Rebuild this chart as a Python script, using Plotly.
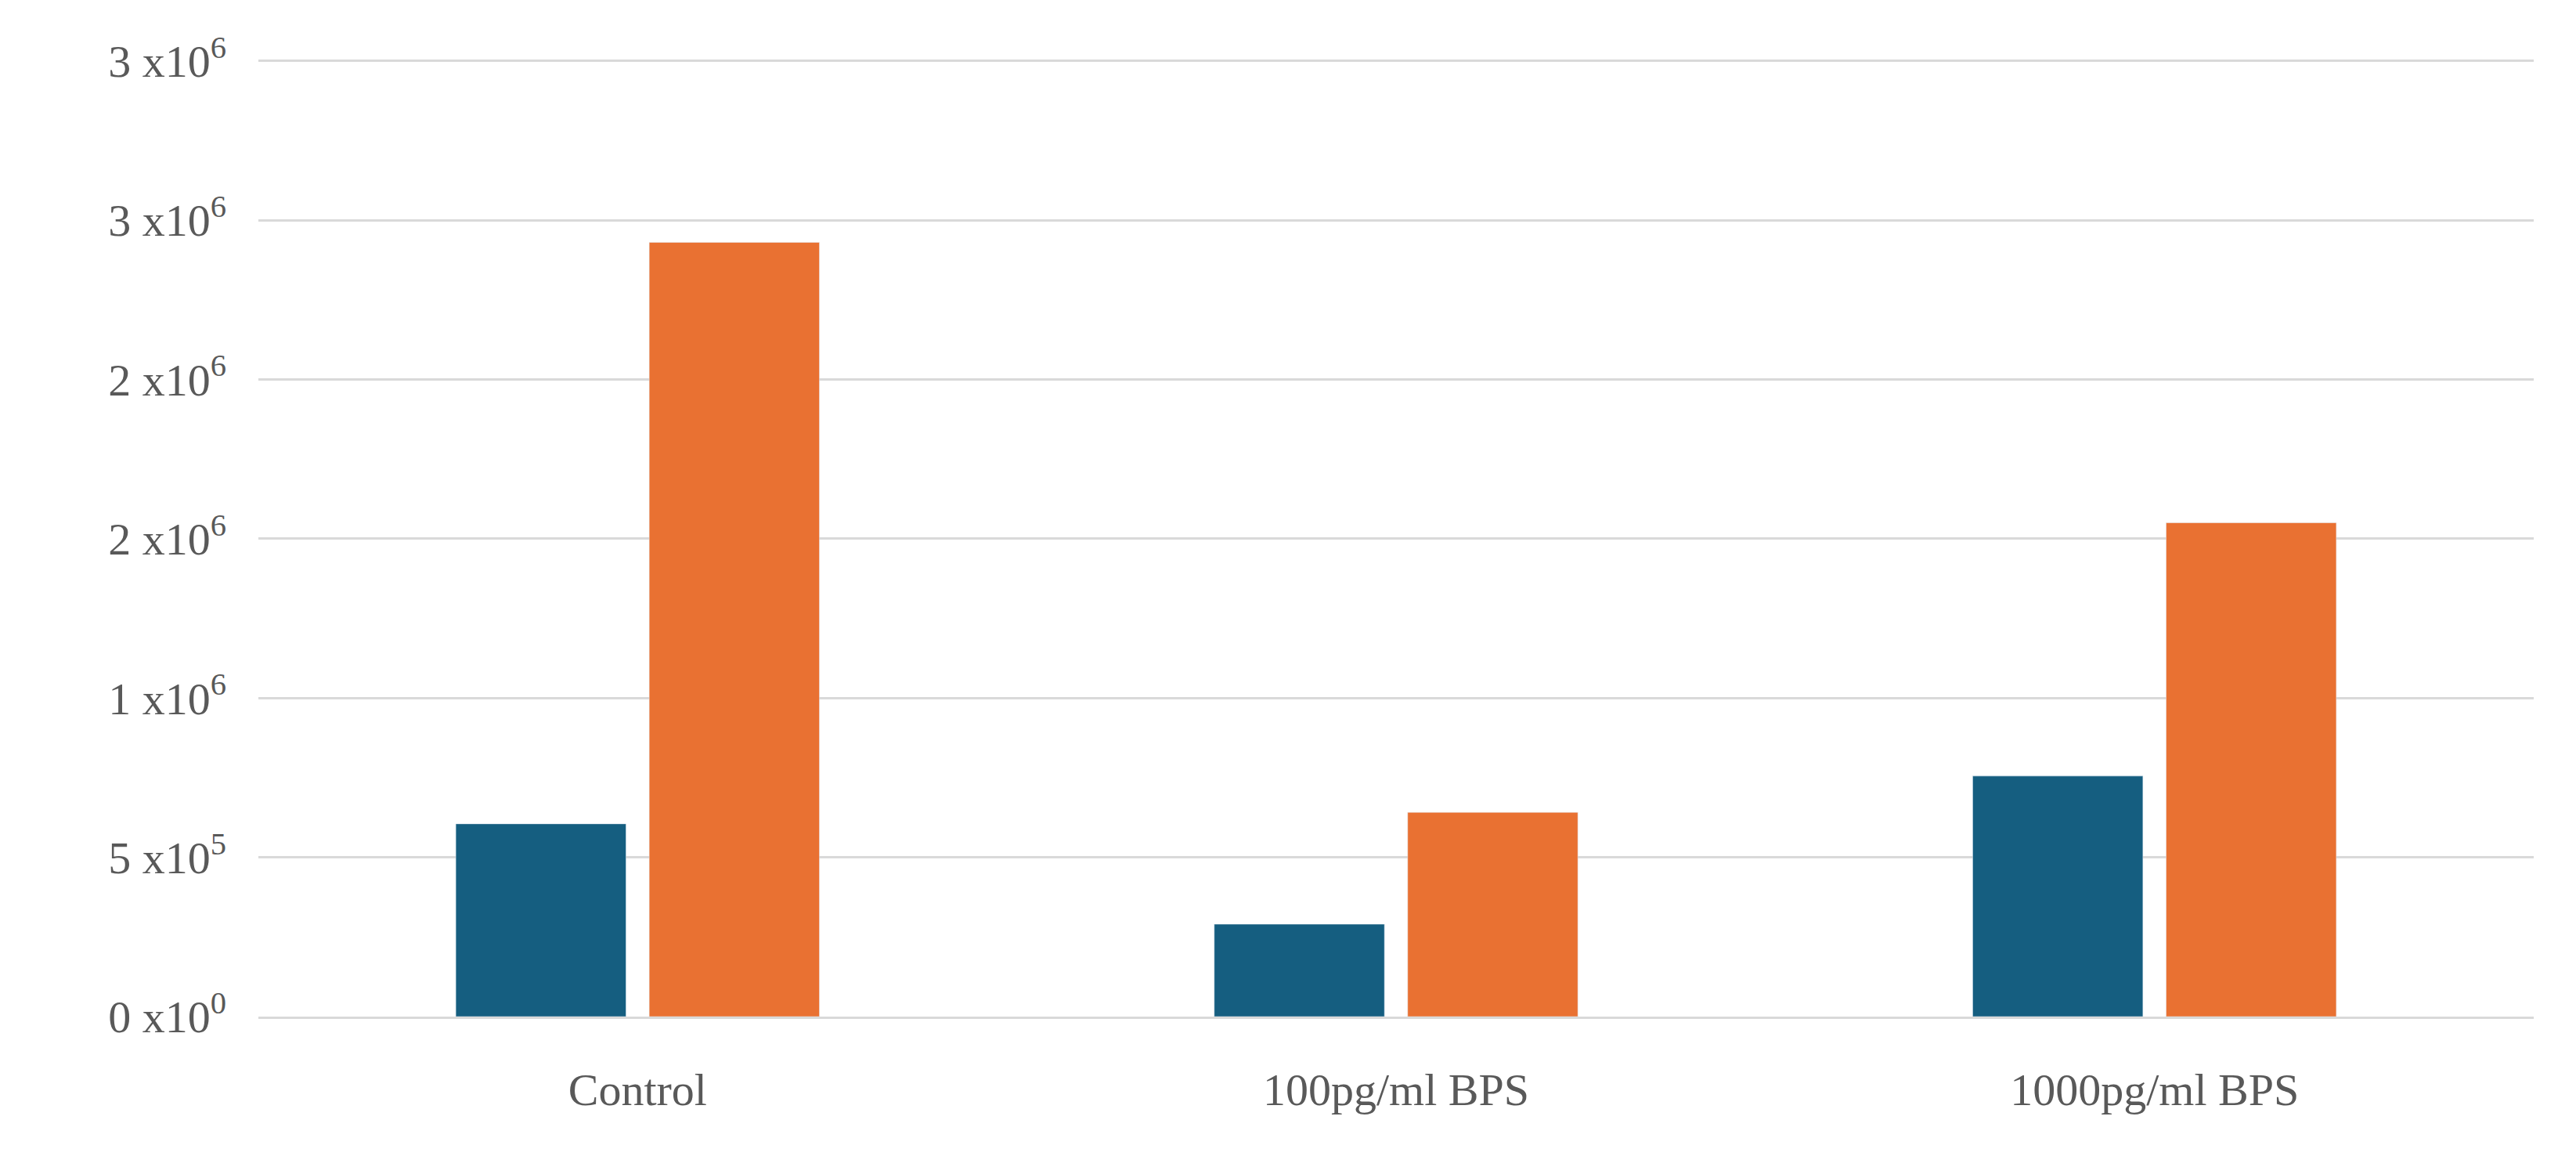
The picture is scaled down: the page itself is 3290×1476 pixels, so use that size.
import plotly.graph_objects as go

categories = ["Control", "100pg/ml BPS", "1000pg/ml BPS"]
series_a = [605000, 290000, 755000]
series_b = [2430000, 641000, 1550000]
tick_vals = [0, 500000, 1000000, 1500000, 2000000, 2500000, 3000000]
tick_text = ["0 x10<sup>0</sup>", "5 x10<sup>5</sup>", "1 x10<sup>6</sup>", "2 x10<sup>6</sup>",
             "2 x10<sup>6</sup>", "3 x10<sup>6</sup>", "3 x10<sup>6</sup>"]

fig = go.Figure()
fig.add_bar(x=categories, y=series_a, marker_color="#155E80", showlegend=False)
fig.add_bar(x=categories, y=series_b, marker_color="#E97132", showlegend=False)
font = dict(family="Liberation Serif", size=58, color="#595959")
fig.update_layout(
    width=3290, height=1476, barmode="group", bargap=0.49, bargroupgap=0.12,
    plot_bgcolor="white", paper_bgcolor="white",
    margin=dict(l=322, r=62, t=68, b=186), font=font,
)
fig.update_yaxes(range=[0, 3004000], tickvals=tick_vals, ticktext=tick_text,
                 gridcolor="#D9D9D9", gridwidth=3, zeroline=False, ticklen=0,
                 ticks="", tickfont=font, ticklabelstandoff=40)
fig.update_xaxes(showline=True, linecolor="#D9D9D9", linewidth=3, ticks="",
                 tickfont=font, ticklabelstandoff=40)
fig.write_html("out.html")
